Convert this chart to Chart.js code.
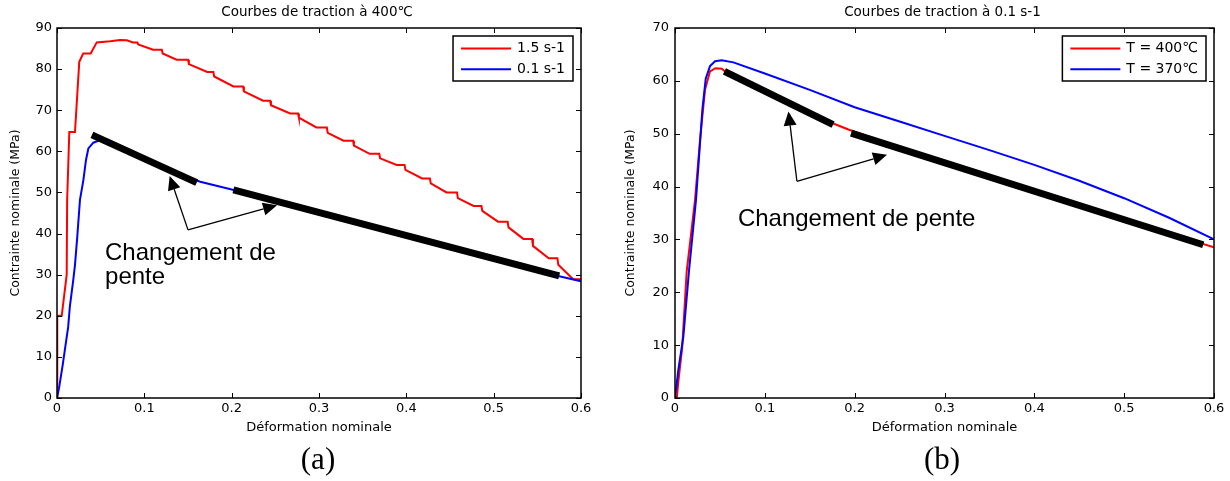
<!DOCTYPE html>
<html lang="fr">
<head>
<meta charset="UTF-8">
<title>Courbes de traction</title>
<script src="https://cdn.jsdelivr.net/npm/chart.js"></script>
<style>
  body { margin: 0; background: #fff; width: 1230px; height: 481px; position: relative; overflow: hidden; }
  .panel { position: absolute; top: 0; }
  #chartA { left: 0; }
  #chartB { left: 615px; }
  .caption {
    position: absolute; top: 441px; transform: translateX(-50%);
    font-family: "Liberation Serif", "Times New Roman", serif; font-size: 31px; line-height: 36px; color: #000;
  }
</style>
</head>
<body>
<canvas id="chartA" class="panel" width="615" height="445"></canvas>
<canvas id="chartB" class="panel" width="615" height="445"></canvas>
<div class="caption" style="left:318px">(a)</div>
<div class="caption" style="left:942px">(b)</div>

<script>
// axis ticks shared by both panels
const strainTicks = [0, 0.1, 0.2, 0.3, 0.4, 0.5, 0.6];
const stressTicksA = [0, 10, 20, 30, 40, 50, 60, 70, 80, 90];
const stressTicksB = [0, 10, 20, 30, 40, 50, 60, 70];

// (a) traction a 400°C, vitesse 1.5 s-1
const strainA15 = [0, 0.0003, 0.0015, 0.0054, 0.0111, 0.0116, 0.0141, 0.0206, 0.0255, 0.030, 0.0386, 0.0455,
  0.061, 0.072, 0.080, 0.087, 0.092, 0.093, 0.110, 0.120, 0.121, 0.137, 0.150, 0.151, 0.172, 0.179, 0.180,
  0.202, 0.213, 0.214, 0.236, 0.244, 0.245, 0.267, 0.276, 0.277, 0.297, 0.309, 0.310, 0.328, 0.339, 0.340,
  0.358, 0.369, 0.370, 0.389, 0.398, 0.399, 0.418, 0.427, 0.428, 0.446, 0.458, 0.459, 0.477, 0.486, 0.487,
  0.505, 0.516, 0.517, 0.534, 0.544, 0.545, 0.563, 0.573, 0.574, 0.591, 0.600];
const stressA15 = [0, 20, 20, 20, 30, 48, 64.7, 64.7, 81.8, 83.8, 83.8, 86.5,
  86.8, 87.1, 87.0, 86.5, 86.5, 86.0, 84.7, 84.7, 83.8, 82.3, 82.3, 81.2, 79.3, 79.3, 78.2,
  75.8, 75.8, 74.6, 72.3, 72.3, 71.2, 69.2, 69.2, 68.2, 65.8, 65.8, 64.5, 62.6, 62.6, 61.4,
  59.4, 59.4, 58.3, 56.7, 56.7, 55.5, 53.4, 53.4, 52.2, 50.0, 50.0, 48.6, 46.7, 46.7, 45.5,
  42.9, 42.9, 41.5, 38.7, 38.7, 37.0, 34.0, 34.0, 32.4, 28.9, 28.9];

// (a) vitesse 0.1 s-1
const strainA01 = [0, 0.0003, 0.0023, 0.0065, 0.009, 0.0128, 0.0147, 0.0186, 0.0206, 0.0232, 0.0263, 0.0302,
  0.0332, 0.0359, 0.0416, 0.048, 0.06, 0.08, 0.10, 0.12, 0.137, 0.164, 0.20, 0.25, 0.30, 0.35, 0.40, 0.45,
  0.50, 0.55, 0.575, 0.60];
const stressA01 = [0, 0, 2.4, 8, 11.7, 17.3, 22.2, 28.7, 32.4, 39.2, 48.2, 53,
  57.9, 60.7, 62.1, 62.6, 61.8, 59.9, 57.9, 56.1, 54.7, 52.6, 50.7, 47.8, 45.0, 42.1, 39.3, 36.5,
  33.7, 30.9, 29.6, 28.4];

// (a) droites de pente + fleches + texte
const slopeA1x = [0.040, 0.160], slopeA1y = [64.0, 52.4];
const slopeA2x = [0.202, 0.575], slopeA2y = [50.6, 29.7];
const arrowBaseA = [0.150, 40.9];
const arrowTipsA = [[0.129, 54.0], [0.252, 46.9]];
const noteA = { x: 0.055, y: 33.6, lines: ['Changement de', 'pente'] };

// (b) traction a 0.1 s-1, T = 400°C
const strainB400 = [0.002, 0.0037, 0.008, 0.013, 0.0223, 0.0279, 0.0334, 0.039, 0.045, 0.052, 0.0557, 0.08,
  0.10, 0.13, 0.156, 0.193, 0.25, 0.30, 0.35, 0.40, 0.45, 0.50, 0.55, 0.60];
const stressB400 = [0, 3.1, 9.5, 23.9, 37.5, 48.9, 58.3, 61.8, 62.4, 62.3, 61.8, 59.8,
  58.0, 55.4, 53.3, 50.8, 47.4, 44.6, 41.9, 39.1, 36.4, 33.7, 31.1, 28.5];

// (b) T = 370°C
const strainB370 = [0, 0.0037, 0.0093, 0.0155, 0.0234, 0.0305, 0.0342, 0.039, 0.0446, 0.052, 0.065, 0.10,
  0.15, 0.20, 0.25, 0.30, 0.35, 0.40, 0.45, 0.50, 0.55, 0.60];
const stressB370 = [0, 5.3, 11.6, 23.9, 37.5, 54.6, 60.4, 62.8, 63.7, 63.9, 63.5, 61.4,
  58.3, 55.0, 52.3, 49.6, 46.9, 44.1, 41.1, 37.8, 34.1, 30.0];

const slopeB1x = [0.055, 0.176], slopeB1y = [61.8, 51.7];
const slopeB2x = [0.196, 0.588], slopeB2y = [50.1, 29.0];
const arrowBaseB = [0.1357, 41.0];
const arrowTipsB = [[0.1263, 54.2], [0.236, 46.0]];
const noteB = { x: 0.070, y: 32.6, lines: ['Changement de pente'] };

const pts = (xs, ys) => xs.map((x, i) => ({ x: x, y: ys[i] }));

function curve(label, xs, ys, color, order) {
  return { label: label, data: pts(xs, ys), borderColor: color, borderWidth: 2, inLegend: true, order: order };
}
function slopeLine(xs, ys) {
  return { label: '', data: pts(xs, ys), borderColor: '#000', borderWidth: 7, borderCapStyle: 'butt', order: 0 };
}

function drawArrow(ctx, x0, y0, x1, y1) {
  const ang = Math.atan2(y1 - y0, x1 - x0), len = 14, half = 6.5;
  const bx = x1 - len * Math.cos(ang), by = y1 - len * Math.sin(ang);
  ctx.beginPath();
  ctx.moveTo(x0, y0);
  ctx.lineTo(bx, by);
  ctx.stroke();
  ctx.beginPath();
  ctx.moveTo(x1, y1);
  ctx.lineTo(bx - half * Math.sin(ang), by + half * Math.cos(ang));
  ctx.lineTo(bx + half * Math.sin(ang), by - half * Math.cos(ang));
  ctx.closePath();
  ctx.fill();
}

// frame, inward ticks, title, legend, arrows and note (matlab look)
function decoPlugin(cfg) {
  return {
    id: 'deco',
    afterDatasetsDraw(chart) {
      const ctx = chart.ctx, a = chart.chartArea, x = chart.scales.x, y = chart.scales.y;
      ctx.save();
      ctx.strokeStyle = '#000';
      ctx.fillStyle = '#000';

      // frame + ticks
      ctx.lineWidth = 1.5;
      ctx.strokeRect(a.left, a.top, a.right - a.left, a.bottom - a.top);
      ctx.lineWidth = 1;
      ctx.beginPath();
      x.ticks.forEach(t => {
        const px = Math.round(x.getPixelForValue(t.value)) + 0.5;
        ctx.moveTo(px, a.bottom); ctx.lineTo(px, a.bottom - 5);
        ctx.moveTo(px, a.top); ctx.lineTo(px, a.top + 5);
      });
      y.ticks.forEach(t => {
        const py = Math.round(y.getPixelForValue(t.value)) + 0.5;
        ctx.moveTo(a.left, py); ctx.lineTo(a.left + 5, py);
        ctx.moveTo(a.right, py); ctx.lineTo(a.right - 5, py);
      });
      ctx.stroke();

      // arrows
      ctx.lineWidth = 1.3;
      const vx = x.getPixelForValue(cfg.arrowBase[0]), vy = y.getPixelForValue(cfg.arrowBase[1]);
      cfg.arrowTips.forEach(tp => drawArrow(ctx, vx, vy, x.getPixelForValue(tp[0]), y.getPixelForValue(tp[1])));

      // note
      ctx.font = '24px "Liberation Sans", Arial, sans-serif';
      ctx.textAlign = 'left';
      ctx.textBaseline = 'alphabetic';
      cfg.note.lines.forEach((ln, i) => {
        ctx.fillText(ln, x.getPixelForValue(cfg.note.x), y.getPixelForValue(cfg.note.y) + i * 24);
      });

      // title
      ctx.font = '13.5px "DejaVu Sans"';
      ctx.textAlign = 'center';
      ctx.textBaseline = 'middle';
      ctx.fillText(cfg.title, (a.left + a.right) / 2 - 2, 12.5);

      // legend
      const items = chart.data.datasets.filter(d => d.inLegend);
      ctx.font = '14px "DejaVu Sans"';
      const tw = Math.max(...items.map(d => ctx.measureText(d.label).width));
      const w = 8 + 50 + 6 + tw + 8, h = 45;
      const bx = a.right - 8 - w, by = a.top + 8;
      ctx.fillStyle = '#fff';
      ctx.fillRect(bx, by, w, h);
      ctx.lineWidth = 1.5;
      ctx.strokeRect(bx, by, w, h);
      ctx.textAlign = 'left';
      items.forEach((d, i) => {
        const ly = by + 12.5 + i * 20.7;
        ctx.strokeStyle = d.borderColor;
        ctx.lineWidth = 2;
        ctx.beginPath();
        ctx.moveTo(bx + 8, ly); ctx.lineTo(bx + 58, ly);
        ctx.stroke();
        ctx.fillStyle = '#000';
        ctx.fillText(d.label, bx + 64, ly);
      });
      ctx.restore();
    }
  };
}

function makeChart(id, cfg) {
  const tickFont = { family: 'DejaVu Sans', size: 13 };
  return new Chart(document.getElementById(id), {
    type: 'line',
    data: { datasets: cfg.datasets },
    options: {
      responsive: false,
      animation: false,
      devicePixelRatio: 1,
      layout: { padding: { top: 28, right: cfg.padRight, bottom: 0, left: 0 } },
      elements: { point: { radius: 0 }, line: { tension: 0 } },
      plugins: { legend: { display: false }, tooltip: { enabled: false } },
      scales: {
        x: {
          type: 'linear', min: 0, max: 0.6,
          afterBuildTicks: s => { s.ticks = strainTicks.map(v => ({ value: v })); },
          afterFit: s => { s.height = 47; },
          ticks: { padding: 3, color: '#000', font: tickFont, callback: v => String(+v.toFixed(1)) },
          grid: { display: false, drawTicks: false },
          border: { display: false },
          title: { display: true, text: 'Déformation nominale', color: '#000',
                   font: { family: 'DejaVu Sans', size: 13 }, padding: { top: 0, bottom: 9.5 } }
        },
        y: {
          min: 0, max: cfg.yTicks[cfg.yTicks.length - 1],
          afterBuildTicks: s => { s.ticks = cfg.yTicks.map(v => ({ value: v })); },
          afterFit: s => { s.width = cfg.axisW; },
          ticks: { padding: cfg.yPad, color: '#000', font: tickFont },
          grid: { display: false, drawTicks: false },
          border: { display: false },
          title: { display: true, text: 'Contrainte nominale (MPa)', color: '#000',
                   font: { family: 'DejaVu Sans', size: 12.5 }, padding: { top: 8, bottom: 0 } }
        }
      }
    },
    plugins: [decoPlugin(cfg)]
  });
}

makeChart('chartA', {
  title: 'Courbes de traction à 400℃',
  yTicks: stressTicksA, axisW: 57, padRight: 34, yPad: 5,
  arrowBase: arrowBaseA, arrowTips: arrowTipsA, note: noteA,
  datasets: [
    curve('1.5 s-1', strainA15, stressA15, '#ff0000', 2),
    curve('0.1 s-1', strainA01, stressA01, '#0000ff', 1),
    slopeLine(slopeA1x, slopeA1y),
    slopeLine(slopeA2x, slopeA2y)
  ]
});

makeChart('chartB', {
  title: 'Courbes de traction à 0.1 s-1',
  yTicks: stressTicksB, axisW: 60, padRight: 16, yPad: 6,
  arrowBase: arrowBaseB, arrowTips: arrowTipsB, note: noteB,
  datasets: [
    curve('T = 400℃', strainB400, stressB400, '#ff0000', 2),
    curve('T = 370℃', strainB370, stressB370, '#0000ff', 1),
    slopeLine(slopeB1x, slopeB1y),
    slopeLine(slopeB2x, slopeB2y)
  ]
});
</script>
</body>
</html>
